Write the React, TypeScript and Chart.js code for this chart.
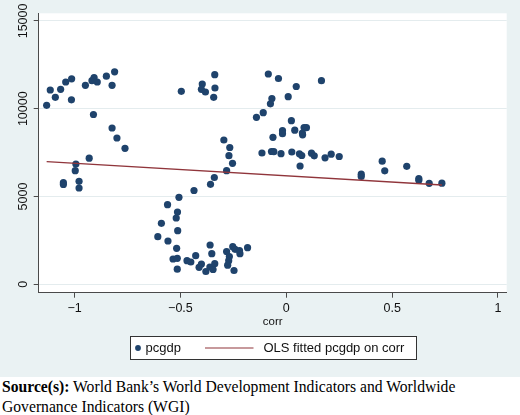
import React, { useEffect, useRef } from "react";
import { Chart, registerables } from "chart.js";

Chart.register(...registerables);

// Control of corruption (corr) against GDP per capita (pcgdp)
const corr = [
  -1.132, -1.115, -1.091, -1.066, -1.042, -1.014, -1.015, -0.949, -0.918, -0.908,
  -0.893, -0.85, -0.811, -0.823, -0.911, -0.823, -0.8, -0.762, -0.931, -0.994,
  -0.997, -1.053, -1.053, -0.979, -0.979, -0.496, -0.397, -0.401, -0.382, -0.338,
  -0.337, -0.343, -0.295, -0.267, -0.271, -0.254, -0.282, -0.34, -0.358, -0.436,
  -0.507, -0.561, -0.514, -0.52, -0.59, -0.513, -0.607, -0.559, -0.518, -0.535,
  -0.515, -0.515, -0.469, -0.451, -0.428, -0.401, -0.412, -0.38, -0.36, -0.352,
  -0.361, -0.338, -0.346, -0.282, -0.269, -0.272, -0.277, -0.253, -0.242, -0.221,
  -0.219, -0.183, -0.247, -0.141, -0.109, -0.075, -0.068, -0.085, -0.037, 0.047,
  0.166, 0.009, 0.024, -0.018, -0.018, -0.063, 0.04, 0.084, 0.095, 0.076,
  0.077, -0.115, -0.07, -0.059, -0.025, 0.026, 0.062, 0.073, 0.065, 0.119,
  0.132, 0.183, 0.212, 0.25, 0.453, 0.465, 0.354, 0.354, 0.569, 0.626,
  0.626, 0.675, 0.735,
];

const pcgdp = [
  10194, 11065, 10650, 11105, 11521, 11703, 10507, 11333, 11595, 11777,
  11521, 11851, 12102, 11333, 9670, 8901, 8332, 7745, 7181, 6851,
  6469, 5786, 5684, 5866, 5484, 10991, 11407, 11105, 10951, 11937,
  11179, 10650, 8218, 7791, 7324, 6891, 6469, 6082, 5695, 5342,
  4955, 4533, 4117, 3776, 3474, 3053, 2711, 2466, 2050, 1441,
  1481, 860, 1344, 1270, 1629, 1156, 968, 729, 2238, 1743,
  985, 1173, 843, 1868, 1583, 1344, 1088, 2141, 1993, 1914,
  1743, 2084, 786, 9511, 9773, 10279, 10581, 11976, 11720, 11265,
  11595, 10684, 9317, 8748, 8577, 8372, 8776, 8930, 8918, 8616,
  8514, 7477, 7563, 7552, 7438, 7534, 7432, 7335, 6737, 7466,
  7318, 7204, 7409, 7278, 7011, 6464, 6270, 6139, 6720, 6025,
  5923, 5752, 5758,
];

// OLS fitted values at the ends of the corr range
const fitCorr = [-1.132, 0.735];
const fitPcgdp = [6990, 5655];

const xTicks = [-1, -0.5, 0, 0.5, 1];
const yTicks = [0, 5000, 10000, 15000];

const seriesLabel = "pcgdp";
const fitLabel = "OLS fitted pcgdp on corr";
const xTitle = "corr";

const NAVY = "#1f436c";
const MAROON = "#90353b";
const REGION = "#eaf2f3";
const GRID = "#e4ecee";
const AXIS = "#4a4a4a";
const SANS = '"Liberation Sans", Arial, sans-serif';

const fmtTick = (v: number) => (v < 0 ? "\u2212" + String(-v) : String(v));

const framePlugin = {
  id: "stataFrame",
  beforeDraw(chart: any) {
    const { ctx, chartArea: a, width, height } = chart;
    ctx.save();
    ctx.fillStyle = REGION;
    ctx.fillRect(0, 0, width, height);
    ctx.fillStyle = "#ffffff";
    ctx.fillRect(a.left, a.top, a.right - a.left, a.bottom - a.top);
    ctx.restore();
  },
  afterDraw(chart: any) {
    const { ctx, chartArea: a } = chart;
    const ys = chart.scales.y;
    ctx.save();
    ctx.fillStyle = "#111";
    ctx.font = `12.5px ${SANS}`;
    ctx.textAlign = "center";
    ctx.textBaseline = "middle";
    // vertical y tick labels
    for (const v of yTicks) {
      const py = ys.getPixelForValue(v);
      ctx.save();
      ctx.translate(23, py);
      ctx.rotate(-Math.PI / 2);
      ctx.fillText(fmtTick(v), 0, 1);
      ctx.restore();
    }
    // x axis title
    const cx = (a.left + a.right) / 2;
    ctx.font = `11.5px ${SANS}`;
    ctx.fillText(xTitle, cx, 321.5);

    // legend box
    const bw = 286;
    const bx = Math.round(cx - bw / 2) + 0.5;
    const by = 336.5;
    const bh = 23;
    ctx.fillStyle = "#ffffff";
    ctx.fillRect(bx, by, bw, bh);
    ctx.strokeStyle = "#333";
    ctx.lineWidth = 1;
    ctx.strokeRect(bx, by, bw, bh);
    const my = by + bh / 2;
    ctx.fillStyle = NAVY;
    ctx.beginPath();
    ctx.arc(bx + 7.5, my, 2.9, 0, Math.PI * 2);
    ctx.fill();
    ctx.fillStyle = "#111";
    ctx.font = `13px ${SANS}`;
    ctx.textAlign = "left";
    ctx.fillText(seriesLabel, bx + 15, my + 0.5);
    ctx.strokeStyle = MAROON;
    ctx.lineWidth = 1.2;
    ctx.beginPath();
    ctx.moveTo(bx + 74.5, my);
    ctx.lineTo(bx + 123, my);
    ctx.stroke();
    ctx.fillText(fitLabel, bx + 133, my + 0.5);
    ctx.restore();
  },
};

export default function App() {
  const canvasRef = useRef<HTMLCanvasElement | null>(null);

  useEffect(() => {
    const canvas = canvasRef.current;
    if (!canvas) return;
    const points = corr.map((x, i) => ({ x, y: pcgdp[i] }));
    const fit = fitCorr.map((x, i) => ({ x, y: fitPcgdp[i] }));

    const chart = new Chart(canvas, {
      type: "scatter",
      data: {
        datasets: [
          {
            label: fitLabel,
            data: fit,
            showLine: true,
            borderColor: MAROON,
            borderWidth: 1.3,
            pointRadius: 0,
            order: 0,
          },
          {
            label: seriesLabel,
            data: points,
            backgroundColor: NAVY,
            borderColor: NAVY,
            borderWidth: 0,
            pointRadius: 3.6,
            order: 1,
          },
        ],
      },
      options: {
        responsive: false,
        animation: false,
        events: [],
        layout: { padding: { top: 13.3, right: 13.3, left: 0, bottom: 0 } },
        plugins: { legend: { display: false }, tooltip: { enabled: false } },
        scales: {
          x: {
            type: "linear",
            min: -1.1696,
            max: 1.0411,
            afterFit: (s: any) => {
              s.height = 84.3;
            },
            afterBuildTicks: (s: any) => {
              s.ticks = xTicks.map((value) => ({ value }));
            },
            ticks: {
              includeBounds: false,
              padding: 3,
              color: "#111",
              font: { family: SANS, size: 12.5 },
              maxRotation: 0,
              callback: (v: any) => fmtTick(Number(v)),
            },
            grid: {
              drawOnChartArea: false,
              drawTicks: true,
              tickLength: 5,
              tickColor: AXIS,
            },
            border: { color: AXIS, width: 1 },
          },
          y: {
            type: "linear",
            min: -478,
            max: 15433,
            afterFit: (s: any) => {
              s.width = 38.7;
            },
            afterBuildTicks: (s: any) => {
              s.ticks = yTicks.map((value) => ({ value }));
            },
            ticks: { display: false, includeBounds: false },
            grid: {
              color: GRID,
              lineWidth: 1,
              drawTicks: true,
              tickLength: 5,
              tickColor: AXIS,
            },
            border: { color: AXIS, width: 1 },
          },
        },
      },
      plugins: [framePlugin],
    });
    return () => chart.destroy();
  }, []);

  return (
    <div
      style={{
        position: "fixed",
        left: 0,
        top: 0,
        width: 520,
        height: 415,
        background: "#ffffff",
        overflow: "hidden",
      }}
    >
      <canvas ref={canvasRef} width={520} height={377} style={{ display: "block" }} />
      <div
        style={{
          position: "absolute",
          left: 2,
          top: 377,
          width: 518,
          fontFamily: '"Liberation Serif", "Times New Roman", serif',
          fontSize: 15.65,
          lineHeight: "20.4px",
          color: "#000",
        }}
      >
        <b>Source(s):</b> World Bank’s World Development Indicators and Worldwide
        <br />
        Governance Indicators (WGI)
      </div>
    </div>
  );
}
